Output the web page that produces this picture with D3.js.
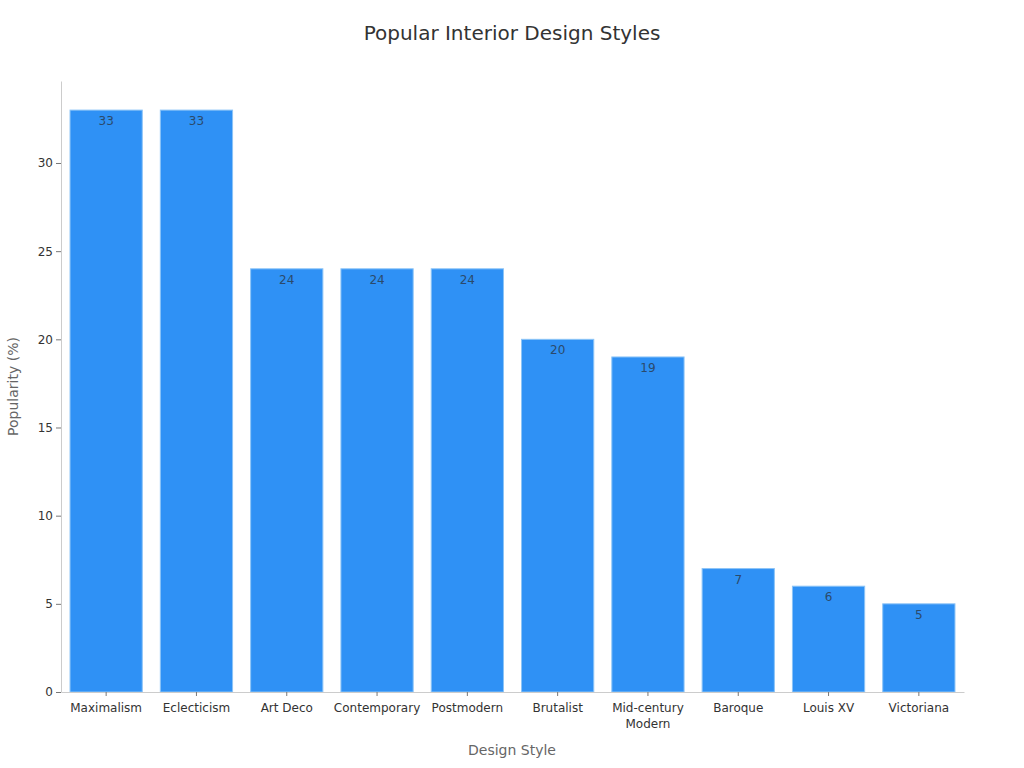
<!DOCTYPE html>
<html lang="en">
  <head>
    <meta charset="UTF-8" />
    <title>Popular Interior Design Styles</title>
    <style>
      html,
      body {
        margin: 0;
        background: #fff;
      }
      text {
        font-family: "DejaVu Sans", sans-serif;
      }
    </style>
    <script src="https://cdn.jsdelivr.net/npm/d3@7"></script>
  </head>
  <body>
    <script>
      const width = 1024;
      const height = 768;

      // data
      const styles = [
        "Maximalism",
        "Eclecticism",
        "Art Deco",
        "Contemporary",
        "Postmodern",
        "Brutalist",
        "Mid-century Modern",
        "Baroque",
        "Louis XV",
        "Victoriana",
      ];
      const popularity = [33, 33, 24, 24, 24, 20, 19, 7, 6, 5];
      const yTicks = [0, 5, 10, 15, 20, 25, 30];

      const margin = { left: 61, right: 60, top: 81, bottom: 76 };

      const svg = d3
        .select("body")
        .append("svg")
        .attr("width", width)
        .attr("height", height);

      const xScale = d3
        .scaleBand()
        .domain(styles)
        .range([margin.left, width - margin.right])
        .paddingInner(0.2)
        .paddingOuter(0.1);

      const yScale = d3
        .scaleLinear()
        .domain([0, d3.max(popularity) * 1.05])
        .range([height - margin.bottom, margin.top]);

      // title
      svg
        .append("text")
        .attr("x", width / 2)
        .attr("y", 40)
        .attr("text-anchor", "middle")
        .attr("font-size", 20)
        .attr("fill", "#333")
        .text("Popular Interior Design Styles");

      // bars
      svg
        .selectAll(".bar")
        .data(styles)
        .enter()
        .append("rect")
        .attr("class", "bar")
        .attr("x", (d) => xScale(d))
        .attr("width", xScale.bandwidth())
        .attr("y", (d, i) => yScale(popularity[i]))
        .attr("height", (d, i) => yScale(0) - yScale(popularity[i]))
        .attr("fill", "#2f91f5")
        .attr("stroke", "#8cc4f7")
        .attr("stroke-width", 1);

      // value labels
      svg
        .selectAll(".val")
        .data(styles)
        .enter()
        .append("text")
        .attr("class", "val")
        .attr("x", (d) => xScale(d) + xScale.bandwidth() / 2)
        .attr("y", (d, i) => yScale(popularity[i]) + 15)
        .attr("text-anchor", "middle")
        .attr("font-size", 12)
        .attr("fill", "#2b4a6b")
        .text((d, i) => popularity[i]);

      // x axis
      const xAxis = svg
        .append("g")
        .attr("transform", `translate(0, ${yScale(0)})`)
        .call(d3.axisBottom(xScale).tickSize(4).tickSizeOuter(0));
      xAxis.select(".domain").attr("stroke", "#ccc");
      xAxis.selectAll(".tick line").attr("stroke", "#777");
      xAxis.selectAll(".tick text").remove();
      xAxis
        .selectAll(".tick")
        .append("text")
        .attr("fill", "#333")
        .attr("font-size", 12)
        .attr("text-anchor", "middle")
        .selectAll("tspan")
        .data((d) => (d === "Mid-century Modern" ? ["Mid-century", "Modern"] : [d]))
        .enter()
        .append("tspan")
        .attr("x", 0)
        .attr("y", (d, i) => 20 + i * 16)
        .text((d) => d);

      // y axis
      const yAxis = svg
        .append("g")
        .attr("transform", `translate(${margin.left}, 0)`)
        .call(d3.axisLeft(yScale).tickValues(yTicks).tickSize(5).tickSizeOuter(0));
      yAxis.select(".domain").attr("stroke", "#ccc");
      yAxis.selectAll(".tick line").attr("stroke", "#777");
      yAxis
        .selectAll(".tick text")
        .attr("fill", "#333")
        .attr("font-size", 12)
        .attr("font-family", "DejaVu Sans, sans-serif");

      // axis labels
      svg
        .append("text")
        .attr("x", 512)
        .attr("y", 755)
        .attr("text-anchor", "middle")
        .attr("font-size", 14)
        .attr("fill", "#666")
        .text("Design Style");

      svg
        .append("text")
        .attr("transform", `translate(18, ${(margin.top + height - margin.bottom) / 2}) rotate(-90)`)
        .attr("text-anchor", "middle")
        .attr("font-size", 14)
        .attr("fill", "#666")
        .text("Popularity (%)");
    </script>
  </body>
</html>
